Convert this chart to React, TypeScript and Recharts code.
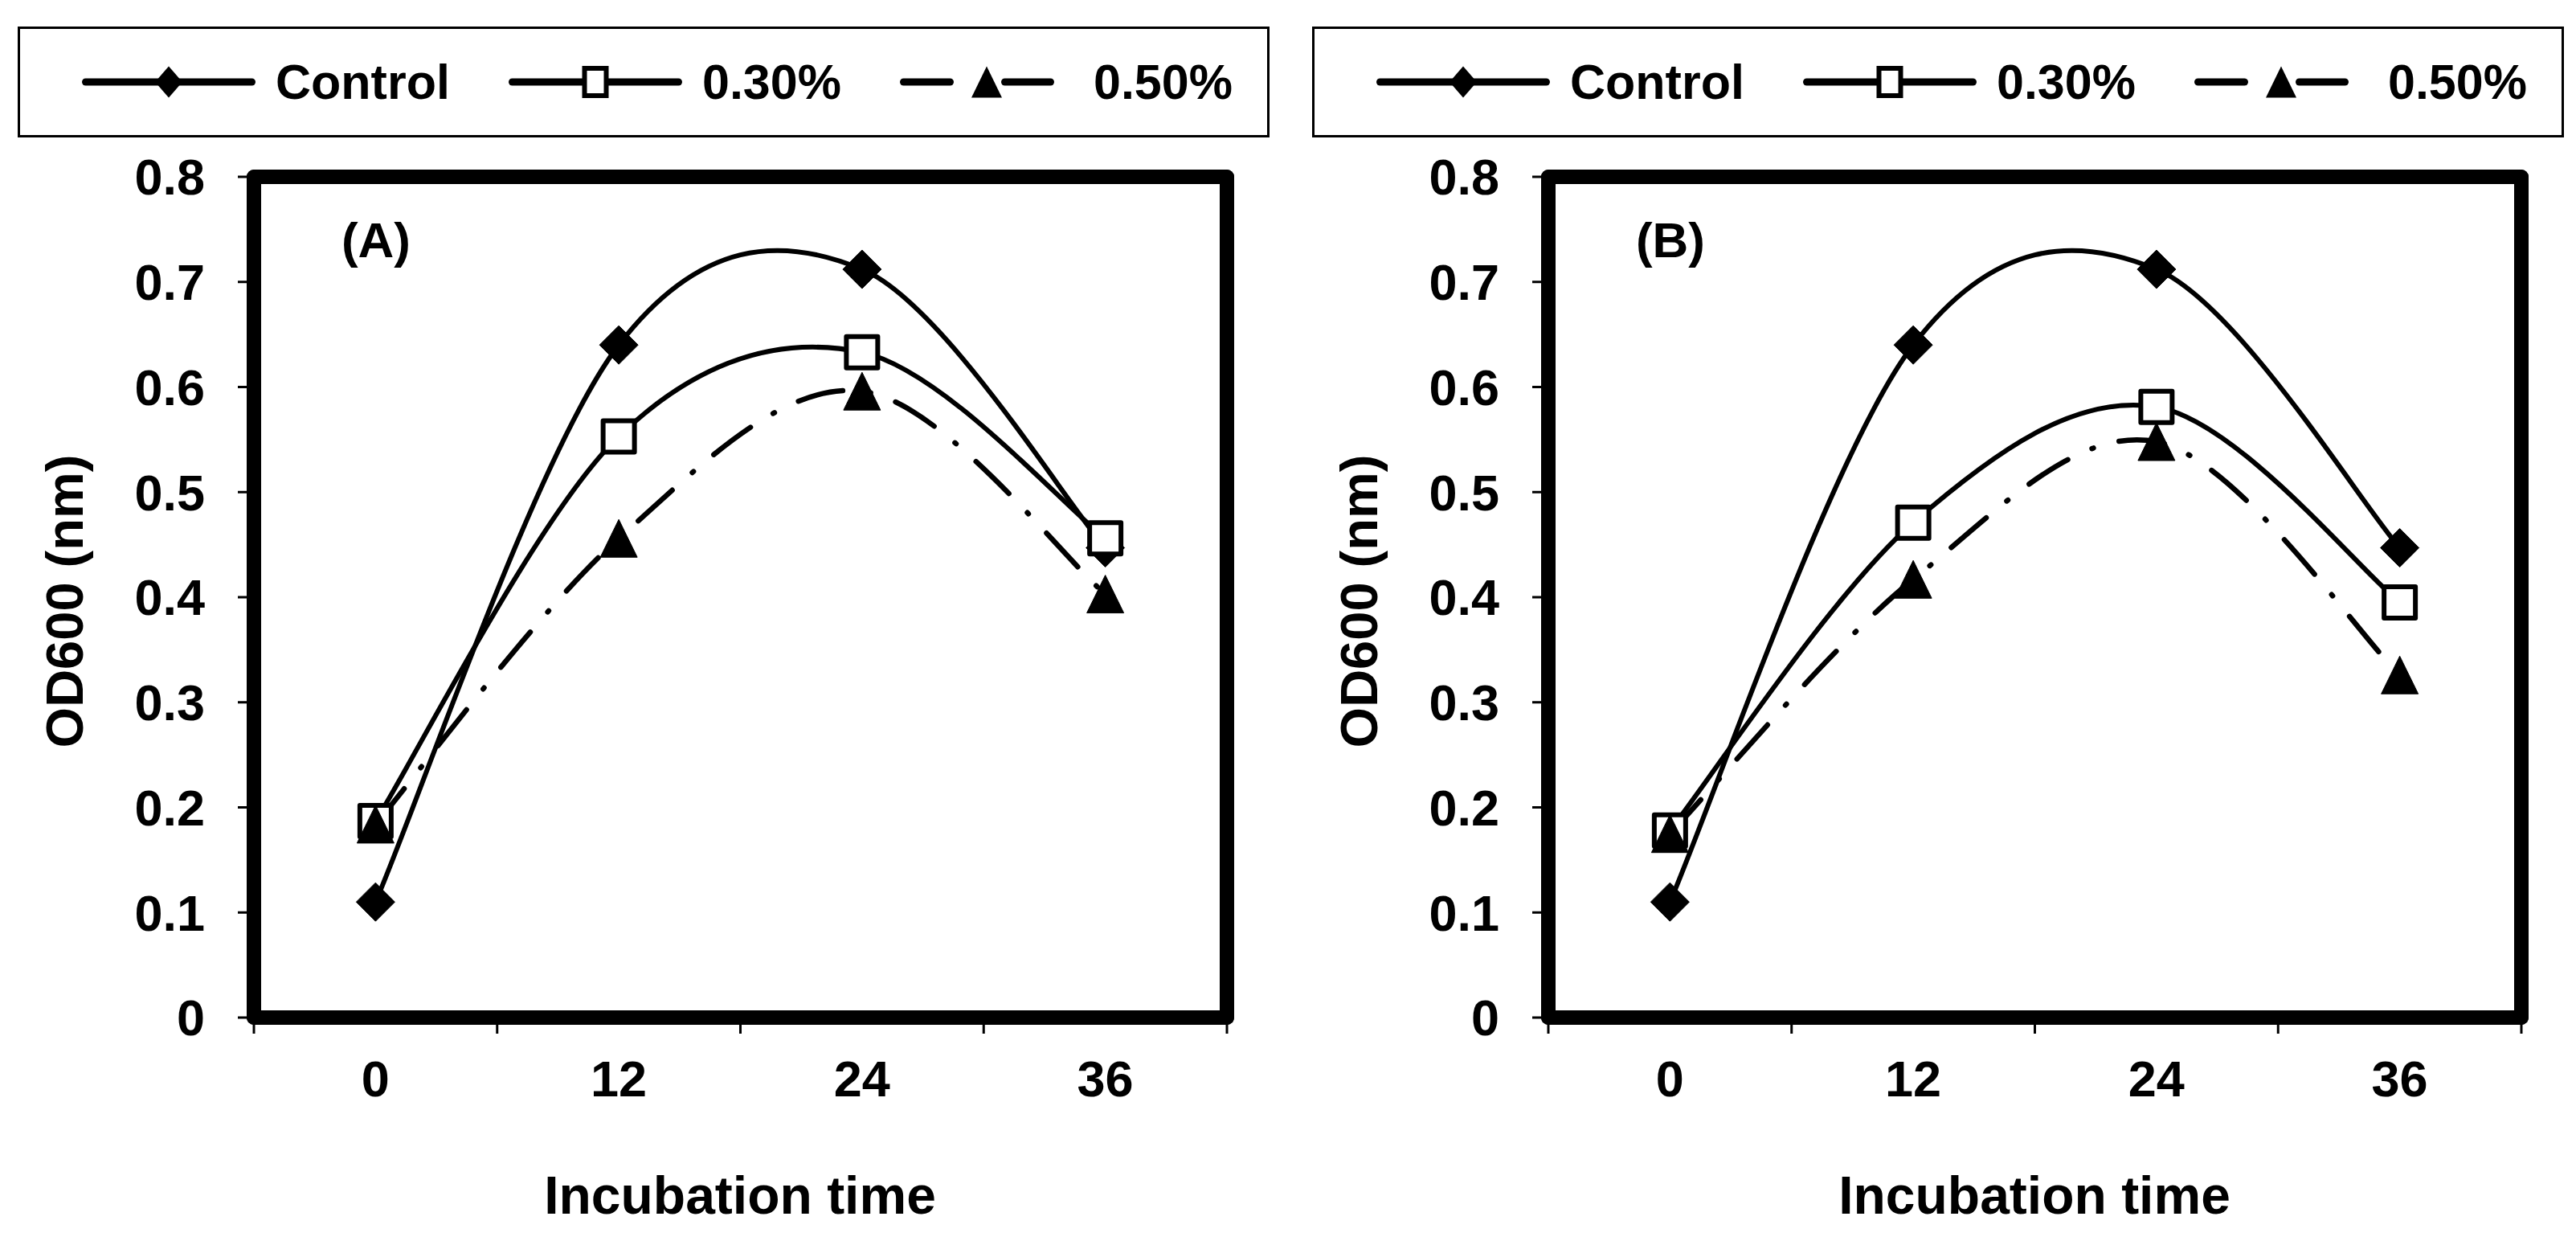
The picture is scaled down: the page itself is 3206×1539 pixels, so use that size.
import React from "react";
import { LineChart, Line, XAxis, YAxis, Legend } from "recharts";

// incubation time (h)
const hours = [0, 12, 24, 36];
const seriesNames = ["Control", "0.30%", "0.50%"];

// panel (A)
const controlA = [0.11, 0.64, 0.712, 0.447];
const pct30A = [0.187, 0.553, 0.633, 0.456];
const pct50A = [0.184, 0.456, 0.596, 0.403];

// panel (B)
const controlB = [0.11, 0.64, 0.712, 0.447];
const pct30B = [0.178, 0.471, 0.581, 0.395];
const pct50B = [0.175, 0.417, 0.548, 0.326];

const yTicks = [0, 0.1, 0.2, 0.3, 0.4, 0.5, 0.6, 0.7, 0.8];

const FONT = '"Liberation Sans", Arial, Helvetica, sans-serif';
const W = 1595;
const H = 1539;
const BORDER = { stroke: "#000", strokeWidth: 18, strokeLinecap: "round" as const };
const TICK_LINE = { stroke: "#000", strokeWidth: 3 };
const X_TICK_SIZE = 20;
const X_TICK_MARGIN = 33;

const step = hours[1] - hours[0];
const edges = [hours[0] - step / 2, ...hours.map((h) => h + step / 2)];
const xDomain = [edges[0], edges[edges.length - 1]];
const xTicks = [...edges, ...hours].sort((a, b) => a - b);

// Excel-style smoothed line: bezier with tangents (p[i+1] - p[i-1]) / 6
function excelSmooth(context: any) {
  let pts: number[][] = [];
  return {
    areaStart() {},
    areaEnd() {},
    lineStart() {
      pts = [];
    },
    point(x: number, y: number) {
      pts.push([+x, +y]);
    },
    lineEnd() {
      const n = pts.length;
      if (!n) return;
      context.moveTo(pts[0][0], pts[0][1]);
      for (let i = 0; i < n - 1; i++) {
        const p0 = pts[Math.max(i - 1, 0)];
        const p1 = pts[i];
        const p2 = pts[i + 1];
        const p3 = pts[Math.min(i + 2, n - 1)];
        context.bezierCurveTo(
          p1[0] + (p2[0] - p0[0]) / 6,
          p1[1] + (p2[1] - p0[1]) / 6,
          p2[0] - (p3[0] - p1[0]) / 6,
          p2[1] - (p3[1] - p1[1]) / 6,
          p2[0],
          p2[1]
        );
      }
    },
  };
}

// edge values get a tick mark only, time points get a label only
function TimeTick(props: any) {
  const { x, y, payload } = props;
  const v = payload?.value;
  if (edges.includes(v)) {
    const top = y - X_TICK_SIZE - X_TICK_MARGIN;
    return <line x1={x} x2={x} y1={top} y2={top + X_TICK_SIZE} stroke="#000" strokeWidth={3} />;
  }
  return (
    <text
      x={x}
      y={y}
      dy="0.71em"
      textAnchor="middle"
      fill="#000"
      fontSize={63}
      fontWeight={700}
      fontFamily={FONT}
    >
      {v}
    </text>
  );
}

const diamondDot = (p: any) => {
  const { cx, cy, index } = p;
  if (cx == null || cy == null) return <g key={`d${index}`} />;
  const s = 24;
  return (
    <polygon
      key={`d${index}`}
      points={`${cx},${cy - s} ${cx + s},${cy} ${cx},${cy + s} ${cx - s},${cy}`}
      fill="#000"
      stroke="#000"
      strokeWidth={1}
      strokeLinejoin="round"
    />
  );
};

const squareDot = (p: any) => {
  const { cx, cy, index } = p;
  if (cx == null || cy == null) return <g key={`s${index}`} />;
  const s = 19.5;
  return (
    <rect
      key={`s${index}`}
      x={cx - s}
      y={cy - s}
      width={2 * s}
      height={2 * s}
      fill="#fff"
      stroke="#000"
      strokeWidth={6}
      strokeLinejoin="round"
    />
  );
};

const triangleDot = (p: any) => {
  const { cx, cy, index } = p;
  if (cx == null || cy == null) return <g key={`t${index}`} />;
  const w = 23;
  const h = 23.5;
  return (
    <polygon
      key={`t${index}`}
      points={`${cx},${cy - h} ${cx + w},${cy + h} ${cx - w},${cy + h}`}
      fill="#000"
      stroke="#000"
      strokeWidth={1}
      strokeLinejoin="round"
    />
  );
};

const seriesStyle: Record<string, { marker: string; legendLeft: number }> = {
  control: { marker: "diamond", legendLeft: 80 },
  p30: { marker: "square", legendLeft: 611 },
  p50: { marker: "triangle", legendLeft: 1098 },
};

function LegendIcon({ marker }: { marker: string }) {
  const c = 108;
  const m = 25;
  return (
    <svg width={216} height={50} style={{ display: "block", flex: "none" }}>
      {marker === "triangle" ? (
        <g stroke="#000" strokeWidth={9} strokeLinecap="round">
          <line x1={4.5} x2={62.5} y1={m} y2={m} />
          <line x1={130.5} x2={187.5} y1={m} y2={m} />
        </g>
      ) : (
        <line x1={4.5} x2={211.5} y1={m} y2={m} stroke="#000" strokeWidth={9} strokeLinecap="round" />
      )}
      {marker === "diamond" && (
        <polygon points={`${c},${m - 19.5} ${c + 17},${m} ${c},${m + 19.5} ${c - 17},${m}`} fill="#000" />
      )}
      {marker === "square" && (
        <rect x={c - 13.5} y={m - 17} width={27} height={34} fill="#fff" stroke="#000" strokeWidth={6} />
      )}
      {marker === "triangle" && (
        <polygon points={`${c},${m - 19.5} ${c + 19},${m + 19.5} ${c - 19},${m + 19.5}`} fill="#000" />
      )}
    </svg>
  );
}

function LegendBox(props: any) {
  const payload = props.payload || [];
  return (
    <div
      style={{
        position: "relative",
        width: "100%",
        height: "100%",
        boxSizing: "border-box",
        border: "3px solid #000",
        background: "#fff",
      }}
    >
      {payload.map((entry: any) => {
        const cfg = seriesStyle[entry.dataKey];
        return (
          <div
            key={entry.dataKey}
            style={{
              position: "absolute",
              left: cfg.legendLeft - 3,
              top: 0,
              height: "100%",
              display: "flex",
              alignItems: "center",
            }}
          >
            <LegendIcon marker={cfg.marker} />
            <span
              style={{
                marginLeft: 25,
                fontSize: 61,
                fontWeight: 700,
                fontFamily: FONT,
                lineHeight: 1,
                whiteSpace: "nowrap",
                color: "#000",
              }}
            >
              {entry.value}
            </span>
          </div>
        );
      })}
    </div>
  );
}

function Panel({
  tag,
  left,
  control,
  p30,
  p50,
}: {
  tag: string;
  left: number;
  control: number[];
  p30: number[];
  p50: number[];
}) {
  const rows = hours.map((t, i) => ({ t, control: control[i], p30: p30[i], p50: p50[i] }));
  const tickStyle = { fill: "#000", fontSize: 63, fontWeight: 700, fontFamily: FONT };
  return (
    <div style={{ position: "absolute", left, top: 0, width: W, height: H }}>
      <LineChart
        width={W}
        height={H}
        data={rows}
        margin={{ top: 220, right: 68, bottom: 0, left: 0 }}
        style={{ fontFamily: FONT }}
      >
        <XAxis
          dataKey="t"
          type="number"
          domain={xDomain}
          ticks={xTicks}
          interval={0}
          height={273}
          axisLine={BORDER}
          tickLine={false}
          tickSize={X_TICK_SIZE}
          tickMargin={X_TICK_MARGIN}
          tick={<TimeTick />}
          stroke="#000"
        />
        <XAxis
          xAxisId="top"
          dataKey="t"
          type="number"
          orientation="top"
          mirror
          domain={xDomain}
          tick={false}
          tickLine={false}
          axisLine={BORDER}
          stroke="#000"
        />
        <YAxis
          type="number"
          domain={[0, 0.8]}
          ticks={yTicks}
          interval={0}
          width={316}
          axisLine={BORDER}
          tickLine={TICK_LINE}
          tickSize={20}
          tickMargin={41}
          tick={tickStyle}
          tickFormatter={(v: number) => (v === 0 ? "0" : String(v))}
          stroke="#000"
        />
        <YAxis
          yAxisId="right"
          type="number"
          orientation="right"
          mirror
          domain={[0, 0.8]}
          tick={false}
          tickLine={false}
          axisLine={BORDER}
          stroke="#000"
        />
        <Legend
          verticalAlign="middle"
          align="center"
          layout="horizontal"
          content={<LegendBox />}
          wrapperStyle={{ left: 22, top: 33, width: 1558, height: 138 }}
        />
        <Line
          dataKey="control"
          name={seriesNames[0]}
          type={excelSmooth as any}
          stroke="#000"
          strokeWidth={6}
          strokeLinejoin="round"
          dot={diamondDot}
          activeDot={false}
          isAnimationActive={false}
        />
        <Line
          dataKey="p30"
          name={seriesNames[1]}
          type={excelSmooth as any}
          stroke="#000"
          strokeWidth={6}
          strokeLinejoin="round"
          dot={squareDot}
          activeDot={false}
          isAnimationActive={false}
        />
        <Line
          dataKey="p50"
          name={seriesNames[2]}
          type={excelSmooth as any}
          stroke="#000"
          strokeWidth={6.5}
          strokeDasharray="57 33 2 33"
          strokeLinecap="round"
          dot={triangleDot}
          activeDot={false}
          isAnimationActive={false}
        />
      </LineChart>
      <svg
        width={W}
        height={H}
        style={{ position: "absolute", left: 0, top: 0, pointerEvents: "none" }}
        fontFamily={FONT}
        fontWeight={700}
        fill="#000"
      >
        <text x={103} y={748} fontSize={65} textAnchor="middle" transform="rotate(-90 103 748)">
          OD600 (nm)
        </text>
        <text x={921} y={1510} fontSize={66} textAnchor="middle">
          Incubation time
        </text>
        <text x={468} y={320} fontSize={62} textAnchor="middle">
          {tag}
        </text>
      </svg>
    </div>
  );
}

export default function App() {
  return (
    <div
      style={{
        position: "absolute",
        left: 0,
        top: 0,
        width: 3206,
        height: 1539,
        overflow: "hidden",
        background: "#fff",
      }}
    >
      <Panel tag="(A)" left={0} control={controlA} p30={pct30A} p50={pct50A} />
      <Panel tag="(B)" left={1611} control={controlB} p30={pct30B} p50={pct50B} />
    </div>
  );
}
